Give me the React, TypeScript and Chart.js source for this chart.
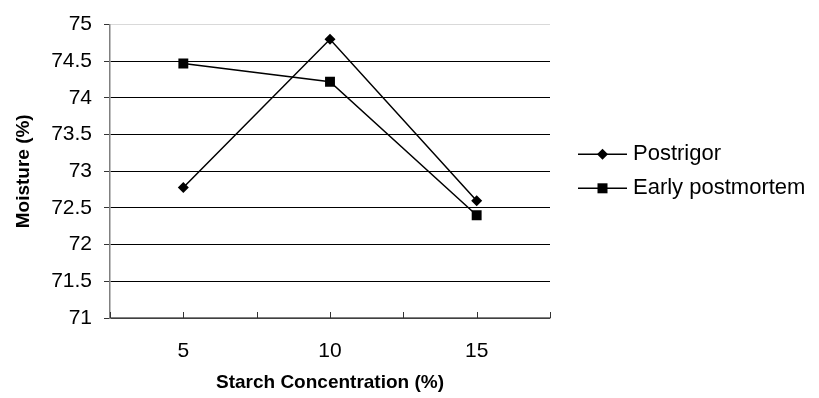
import React, { useEffect, useRef } from "react";
import { Chart, registerables } from "chart.js";

Chart.register(...registerables);

const categories = ["5", "10", "15"];
const postrigor = [72.78, 74.8, 72.6];
const earlyPostmortem = [74.47, 74.22, 72.4];
const seriesNames = ["Postrigor", "Early postmortem"];
const yMin = 71;
const yMax = 75;
const yStep = 0.5;

const FONT = "'Liberation Sans', Arial, sans-serif";

const xTickPlugin = {
  id: "xInsideTicks",
  afterDatasetsDraw(chart: any) {
    const x = chart.scales.x;
    const { ctx, chartArea } = chart;
    const n = categories.length;
    ctx.save();
    ctx.strokeStyle = "#333";
    ctx.lineWidth = 1;
    for (let i = 0; i <= n * 2; i++) {
      const v = -0.5 + i * 0.5;
      const px = Math.round(x.getPixelForValue(v)) + 0.5;
      ctx.beginPath();
      ctx.moveTo(px, chartArea.bottom);
      ctx.lineTo(px, chartArea.bottom - 6);
      ctx.stroke();
    }
    ctx.restore();
  },
};

const legendPlugin = {
  id: "lineMarkerLegend",
  afterDraw(chart: any) {
    const { ctx, chartArea } = chart;
    const cy = (chartArea.top + chartArea.bottom) / 2;
    const x0 = chartArea.right + 28;
    const lineLen = 49;
    const gap = 34;
    const n = chart.data.datasets.length;
    ctx.save();
    chart.data.datasets.forEach((ds: any, i: number) => {
      const y = cy + (i - (n - 1) / 2) * gap;
      ctx.strokeStyle = "#000";
      ctx.lineWidth = 1.5;
      ctx.beginPath();
      ctx.moveTo(x0, y);
      ctx.lineTo(x0 + lineLen, y);
      ctx.stroke();
      ctx.fillStyle = "#000";
      const mx = x0 + lineLen / 2;
      if (ds.pointStyle === "rectRot") {
        const r = 5.5;
        ctx.beginPath();
        ctx.moveTo(mx - r, y);
        ctx.lineTo(mx, y - r);
        ctx.lineTo(mx + r, y);
        ctx.lineTo(mx, y + r);
        ctx.closePath();
        ctx.fill();
      } else {
        const s = 5;
        ctx.fillRect(mx - s, y - s, 2 * s, 2 * s);
      }
      ctx.font = `22px ${FONT}`;
      ctx.textBaseline = "middle";
      ctx.textAlign = "left";
      ctx.fillText(ds.label, x0 + lineLen + 6, y);
    });
    ctx.restore();
  },
};

export default function App() {
  const canvasRef = useRef<HTMLCanvasElement | null>(null);

  useEffect(() => {
    document.body.style.margin = "0";
    const canvas = canvasRef.current;
    if (!canvas) return;
    const chart = new Chart(canvas, {
      type: "line",
      data: {
        labels: categories,
        datasets: [
          {
            label: seriesNames[0],
            data: postrigor,
            borderColor: "#000",
            backgroundColor: "#000",
            borderWidth: 1.5,
            pointStyle: "rectRot",
            pointRadius: 5.5,
            pointBorderWidth: 0,
            pointBackgroundColor: "#000",
            tension: 0,
          },
          {
            label: seriesNames[1],
            data: earlyPostmortem,
            borderColor: "#000",
            backgroundColor: "#000",
            borderWidth: 1.5,
            pointStyle: "rect",
            pointRadius: 7,
            pointBorderWidth: 0,
            pointBackgroundColor: "#000",
            tension: 0,
          },
        ],
      },
      options: {
        animation: false,
        responsive: true,
        maintainAspectRatio: false,
        layout: { padding: { top: 22, right: 269, left: 0, bottom: 0 } },
        plugins: {
          legend: { display: false },
          tooltip: { enabled: false },
        },
        scales: {
          x: {
            type: "category",
            offset: true,
            grid: { display: false },
            border: { display: true, color: "#808080", width: 1.5 },
            ticks: {
              color: "#000",
              font: { family: FONT, size: 21 },
              padding: 13,
            },
            title: {
              display: true,
              text: "Starch Concentration (%)",
              color: "#000",
              font: { family: FONT, size: 19, weight: "bold" },
              padding: { top: 4, bottom: 4 },
            },
            afterFit: (s: any) => {
              s.height = 80;
            },
          },
          y: {
            min: yMin,
            max: yMax,
            ticks: {
              stepSize: yStep,
              color: "#000",
              font: { family: FONT, size: 21 },
              padding: 12,
              callback: (v: any) => String(Number(v)),
            },
            grid: {
              color: (c: any) => (c.tick && c.tick.value === yMax ? "#d9d9d9" : "#000"),
              lineWidth: 1,
              drawTicks: true,
              tickLength: 6,
              tickColor: "#333",
            },
            border: { display: true, color: "#808080", width: 1.5 },
            title: {
              display: true,
              text: "Moisture (%)",
              color: "#000",
              font: { family: FONT, size: 19, weight: "bold" },
              padding: { top: 12, bottom: 0 },
            },
            afterFit: (s: any) => {
              s.width = 110;
            },
          },
        },
      },
      plugins: [xTickPlugin, legendPlugin],
    });
    return () => chart.destroy();
  }, []);

  return (
    <div style={{ position: "relative", width: 819, height: 398 }}>
      <canvas ref={canvasRef} />
    </div>
  );
}
